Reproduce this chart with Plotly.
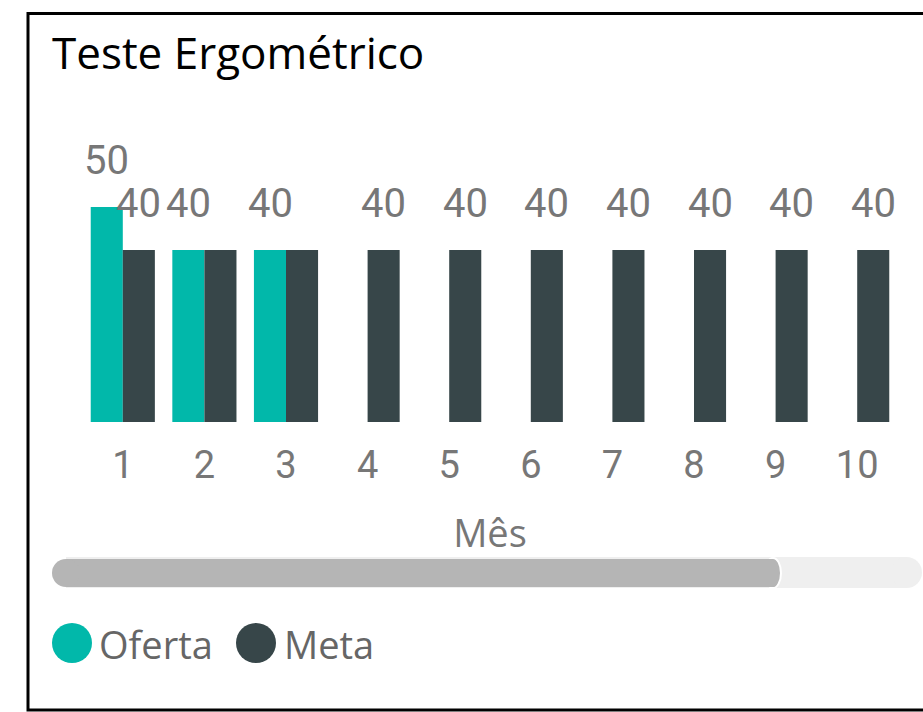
import plotly.graph_objects as go

# ---- data ----
months = [1, 2, 3, 4, 5, 6, 7, 8, 9, 10]
month_labels = ["1", "2", "3", "4", "5", "6", "7", "8", "9", "10"]
oferta = [50, 40, 40, None, None, None, None, None, None, None]
meta = [40, 40, 40, 40, 40, 40, 40, 40, 40, 40]
oferta_label_text = ["50", "40", "40", "", "", "", "", "", "", ""]
meta_label_text = ["40", "", "", "40", "40", "40", "40", "40", "40", "40"]
series_names = ["Oferta", "Meta"]
title_text = "Teste Ergométrico"
x_title = "Mês"

TEAL = "#01B8AA"
DARK = "#374649"

W, H = 923, 712
ML, MR, MT, MB = 82, 25, 164, 290
PW = W - ML - MR
PH = H - MT - MB


def px(x):
    return (x - ML) / PW


def py(y):
    return (H - MB - y) / PH


fig = go.Figure()
fig.add_trace(go.Bar(x=months, y=oferta, name=series_names[0], marker_color=TEAL,
                     marker_line_width=0, showlegend=False, hoverinfo="x+y+name"))
fig.add_trace(go.Bar(x=months, y=meta, name=series_names[1], marker_color=DARK,
                     marker_line_width=0, showlegend=False, hoverinfo="x+y+name"))

annotations = []
label_font = dict(family="Roboto, DejaVu Sans", size=40, color="#777777")
for m, v, t in zip(months, oferta, oferta_label_text):
    if v is not None and t:
        annotations.append(dict(x=m, y=v, xref="x", yref="y", text=t, showarrow=False,
                                xanchor="center", yanchor="bottom", xshift=-16, yshift=21,
                                font=label_font))
for m, v, t in zip(months, meta, meta_label_text):
    if v is not None and t:
        annotations.append(dict(x=m, y=v, xref="x", yref="y", text=t, showarrow=False,
                                xanchor="center", yanchor="bottom", xshift=16, yshift=21,
                                font=label_font))

# title
annotations.append(dict(x=px(50), y=py(52), xref="paper", yref="paper", text=title_text,
                        showarrow=False, xanchor="left", yanchor="middle",
                        font=dict(family="Open Sans", size=44, color="#000000")))

# legend (manual, circular markers)
shapes = []
legend_items = [(series_names[0], TEAL, 72, 97), (series_names[1], DARK, 256, 282)]
for name, col, cx, tx in legend_items:
    shapes.append(dict(type="circle", xref="paper", yref="paper",
                       x0=px(cx - 20), x1=px(cx + 20), y0=py(643 + 20), y1=py(643 - 20),
                       fillcolor=col, line_width=0))
    annotations.append(dict(x=px(tx), y=py(644), xref="paper", yref="paper", text=name,
                            showarrow=False, xanchor="left", yanchor="middle",
                            font=dict(family="Open Sans", size=38, color="#666666")))

# scrollbar track
TR = "#EFEFEF"
shapes.append(dict(type="rect", xref="paper", yref="paper", x0=px(66), x1=px(907),
                   y0=py(588), y1=py(557), fillcolor=TR, line_width=0, layer="above"))
shapes.append(dict(type="circle", xref="paper", yref="paper", x0=px(891), x1=px(922),
                   y0=py(588), y1=py(557), fillcolor=TR, line_width=0, layer="above"))
# scrollbar thumb
TH = "#B5B5B5"
shapes.append(dict(type="circle", xref="paper", yref="paper", x0=px(765), x1=px(781),
                   y0=py(588), y1=py(558), fillcolor=TH, line=dict(color="white", width=2),
                   layer="above"))
shapes.append(dict(type="rect", xref="paper", yref="paper", x0=px(66), x1=px(773),
                   y0=py(587), y1=py(559), fillcolor=TH, line_width=0, layer="above"))
shapes.append(dict(type="circle", xref="paper", yref="paper", x0=px(52), x1=px(80),
                   y0=py(587), y1=py(559), fillcolor=TH, line_width=0, layer="above"))

# frame
shapes.append(dict(type="rect", xref="paper", yref="paper", x0=px(28), x1=px(940),
                   y0=py(710), y1=py(13.5), line=dict(color="#000000", width=3),
                   fillcolor="rgba(0,0,0,0)", layer="above"))

fig.update_layout(
    width=W, height=H,
    margin=dict(l=ML, r=MR, t=MT, b=MB, pad=0),
    paper_bgcolor="white", plot_bgcolor="white",
    barmode="group", bargap=0.214, bargroupgap=0,
    showlegend=False,
    annotations=annotations,
    shapes=shapes,
    xaxis=dict(range=[0.5, 10.5], tickmode="array", tickvals=months, ticktext=month_labels,
               showgrid=False, zeroline=False, showline=False, ticks="",
               ticklabelstandoff=17,
               tickfont=dict(family="Roboto", size=38, color="#777777"),
               title=dict(text=x_title, standoff=34,
                          font=dict(family="Open Sans", size=38, color="#777777")),
               fixedrange=True),
    yaxis=dict(range=[0, 60], visible=False, showgrid=False, zeroline=False, fixedrange=True),
)

fig.write_html("out.html", config={"displayModeBar": False},
               post_script="document.body.style.margin='0';document.body.style.overflow='hidden';")
